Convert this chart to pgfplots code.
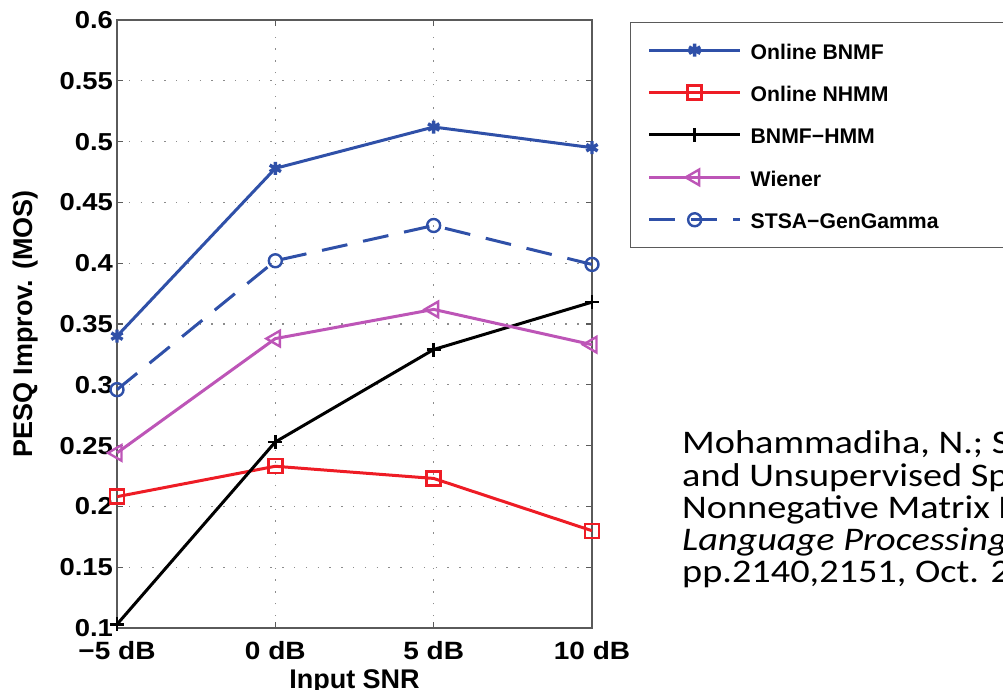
\documentclass[border=0pt]{standalone}
\usepackage{pgfplots}
\pgfplotsset{compat=1.18}
\usepackage{fontspec}
\setmainfont{Liberation Sans}
\newfontfamily\widefont[FakeStretch=1.12]{Liberation Sans}
\newfontfamily\citefont[FakeStretch=1.16]{Carlito}

\definecolor{bnmfblue}{HTML}{2F50A8}
\definecolor{nhmmred}{HTML}{EE1C25}
\definecolor{wienermag}{HTML}{BD55B7}
\definecolor{axisgray}{HTML}{5A5A5A}

% PESQ improvement (MOS) at input SNR -5, 0, 5, 10 dB
\pgfplotstableread{
snr bnmf nhmm hmm wiener stsa
-5  0.340 0.208 0.103 0.244 0.296
0   0.478 0.233 0.253 0.338 0.402
5   0.512 0.223 0.329 0.362 0.431
10  0.495 0.180 0.368 0.333 0.399
}\pesqdata

\begin{document}
\begin{tikzpicture}[x=1pt,y=1pt]
\useasboundingbox (0,0) rectangle (1003,690);
\clip (0,0) rectangle (1003,690);

\begin{axis}[
  at={(117pt,62pt)}, anchor=south west,
  scale only axis, width=475pt, height=608pt,
  xmin=-5, xmax=10, ymin=0.1, ymax=0.6,
  xtick={-5,0,5,10},
  xticklabels={−5 dB,0 dB,5 dB,10 dB},
  ytick={0.1,0.15,0.2,0.25,0.3,0.35,0.4,0.45,0.5,0.55,0.6},
  yticklabels={0.1,0.15,0.2,0.25,0.3,0.35,0.4,0.45,0.5,0.55,0.6},
  tick align=inside, tick pos=both,
  major tick length=6pt,
  tick style={axisgray, line width=1.3pt},
  axis line style={axisgray, line width=1.5pt},
  grid=major,
  grid style={dash pattern=on 1.4pt off 10.4pt, black!45, line width=1.3pt},
  xticklabel style={font=\widefont\bfseries\fontsize{25}{25}\selectfont, yshift=-10pt},
  yticklabel style={font=\widefont\bfseries\fontsize{24.5}{24.5}\selectfont, xshift=-0.5pt},
  xlabel={Input SNR},
  ylabel={PESQ Improv. (MOS)},
  xlabel style={font=\bfseries\fontsize{27}{27}\selectfont,
    at={(axis description cs:0.5,0)}, anchor=base, yshift=-60pt},
  ylabel style={font=\bfseries\fontsize{27}{27}\selectfont,
    at={(axis description cs:0,0.5)}, anchor=center, yshift=91pt},
  clip=false,
  legend cell align=left,
  legend image code/.code={
    \draw[mark repeat=2,mark phase=2,#1]
      plot coordinates {(0pt,0pt) (45.5pt,0pt) (91pt,0pt)};},
  legend style={
    at={(axis description cs:1.08,0.9967)}, anchor=north west,
    draw=axisgray, line width=1.3pt,
    font=\bfseries\fontsize{21.2}{21.2}\selectfont,
    inner xsep=17pt, inner ysep=15.5pt,
    row sep=18.4pt, column sep=9pt,
    nodes={inner sep=0pt, text height=21pt, text depth=3pt},
  },
]
\addplot[bnmfblue, line width=3pt, mark=asterisk, mark size=6.5pt,
  mark options={line width=3.4pt, solid}]
  table[x=snr, y=bnmf] {\pesqdata};
\addlegendentry{\makebox[300pt][l]{Online BNMF}}

\addplot[nhmmred, line width=3pt, mark=square, mark size=7pt,
  mark options={line width=2.4pt, solid}]
  table[x=snr, y=nhmm] {\pesqdata};
\addlegendentry{Online NHMM}

\addplot[black, line width=3pt, mark=+, mark size=7pt,
  mark options={line width=2.6pt, solid}]
  table[x=snr, y=hmm] {\pesqdata};
\addlegendentry{BNMF−HMM}

\addplot[wienermag, line width=3pt, mark=triangle, mark size=9pt,
  mark options={line width=2.4pt, solid, rotate=90}]
  table[x=snr, y=wiener] {\pesqdata};
\addlegendentry{Wiener}

\addplot[bnmfblue, line width=3pt, dash pattern=on 26pt off 16pt,
  mark=o, mark size=6.5pt, mark options={line width=2.4pt, solid}]
  table[x=snr, y=stsa] {\pesqdata};
\addlegendentry{STSA−GenGamma}
\end{axis}

% reference note, anchored at the baseline of its last line
\node[anchor=base west, align=left, inner sep=0pt,
  font=\citefont\fontsize{33}{32.3}\selectfont] at (682,107)
  {Mohammadiha, N.; Smaragdis, P.; Leijon, A., “Supervised\\
   and Unsupervised Speech Enhancement Using\\
   Nonnegative Matrix Factorization,” \textit{IEEE Trans. Audio, Speech, and}\\
   \textit{Language Processing,} vol.21, no.10,\\
   pp.2140,2151, Oct. 2013};
\end{tikzpicture}
\end{document}
